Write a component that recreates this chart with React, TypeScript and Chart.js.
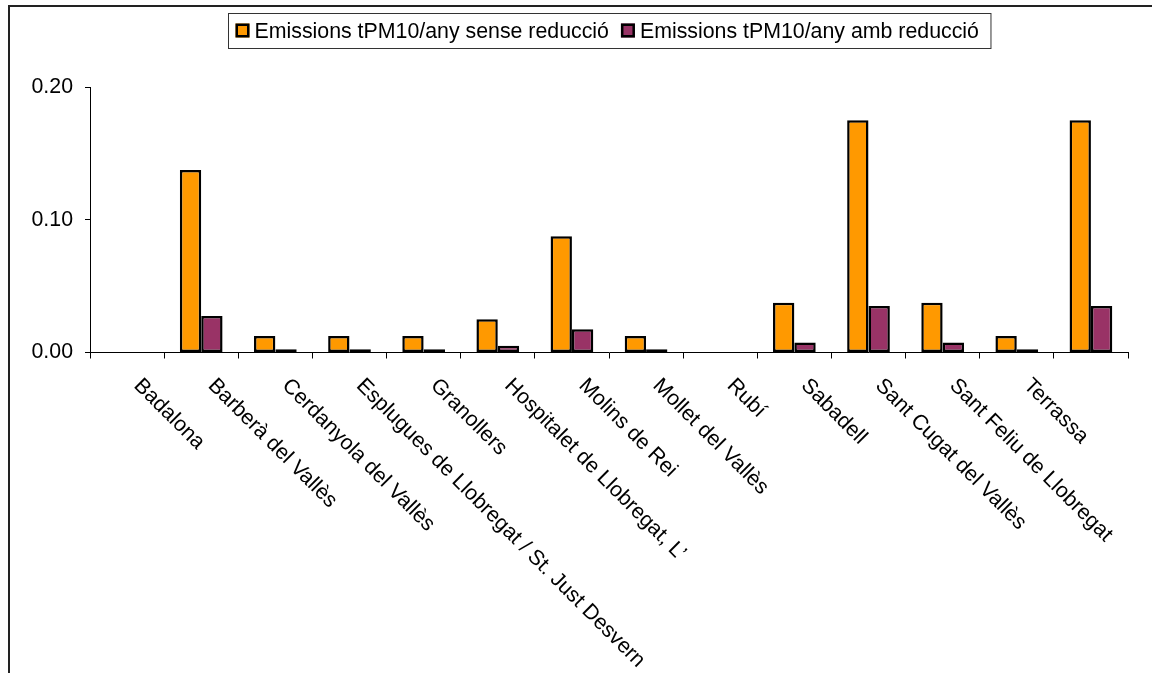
import React, { useEffect, useRef } from 'react';
import { Chart, registerables } from 'chart.js';

Chart.register(...registerables);

const categories = [
  'Badalona',
  'Barberà del Vallès',
  'Cerdanyola del Vallès',
  'Esplugues de Llobregat / St. Just Desvern',
  'Granollers',
  'Hospitalet de Llobregat, L’',
  'Molins de Rei',
  'Mollet del Vallès',
  'Rubí',
  'Sabadell',
  'Sant Cugat del Vallès',
  'Sant Feliu de Llobregat',
  'Terrassa',
  '',
];

const seriesNames = ['Emissions tPM10/any sense reducció', 'Emissions tPM10/any amb reducció'];
const seriesColors = ['#FF9900', '#993366'];

const withoutReduction = [0, 0.1375, 0.0125, 0.0125, 0.0125, 0.025, 0.0875, 0.0125, 0, 0.0375, 0.175, 0.0375, 0.0125, 0.175];
const withReduction = [0, 0.0275, 0.0025, 0.0025, 0.0025, 0.005, 0.0175, 0.0025, 0, 0.0075, 0.035, 0.0075, 0.0025, 0.035];

const yTicks = [0, 0.1, 0.2];

const FONT = '"Liberation Sans", Arial, Helvetica, sans-serif';
const FS = 21.33;

const CANVAS_W = 1142;
const CANVAS_H = 666;

const rotatedLabels = {
  id: 'rotatedLabels',
  afterDraw(chart: any) {
    const { ctx, chartArea } = chart;
    const xs = chart.scales.x;
    ctx.save();
    ctx.font = `${FS}px ${FONT}`;
    ctx.fillStyle = '#000';
    ctx.textAlign = 'left';
    ctx.textBaseline = 'alphabetic';
    categories.forEach((c, i) => {
      if (!c) return;
      const px = xs.getPixelForValue(i) + 6;
      const py = chartArea.bottom + 34;
      ctx.save();
      ctx.translate(px, py);
      ctx.rotate(Math.PI / 4);
      ctx.fillText(c, 0, 0);
      ctx.restore();
    });
    ctx.restore();
  },
};

const boxedLegend = {
  id: 'boxedLegend',
  afterDraw(chart: any) {
    const { ctx, chartArea } = chart;
    ctx.save();
    ctx.font = `${FS}px ${FONT}`;
    const padL = 7, box = 14, gapBox = 5, gapItem = 12, padR = 12;
    const widths = seriesNames.map((n) => ctx.measureText(n).width);
    let total = padL + padR;
    widths.forEach((w, i) => {
      total += box + gapBox + w + (i < widths.length - 1 ? gapItem : 0);
    });
    const cx = (chartArea.left + chartArea.right) / 2;
    const left = Math.round(cx - total / 2) + 0.5;
    const top = 6.5;
    const h = 35;
    ctx.fillStyle = '#fff';
    ctx.fillRect(left, top, total, h);
    ctx.strokeStyle = '#333';
    ctx.lineWidth = 1;
    ctx.strokeRect(left, top, total, h);
    let x = left + padL;
    const boxTop = top + 10;
    const baseline = top + 24;
    seriesNames.forEach((n, i) => {
      ctx.fillStyle = seriesColors[i];
      ctx.fillRect(x, boxTop, box, box);
      ctx.strokeStyle = '#000';
      ctx.lineWidth = 2.5;
      ctx.strokeRect(x + 1.25, boxTop + 1.25, box - 2.5, box - 2.5);
      x += box + gapBox;
      ctx.fillStyle = '#000';
      ctx.textAlign = 'left';
      ctx.textBaseline = 'alphabetic';
      ctx.fillText(n, x, baseline);
      x += widths[i] + gapItem;
    });
    ctx.restore();
  },
};

export default function App() {
  const ref = useRef<HTMLCanvasElement | null>(null);

  useEffect(() => {
    if (!ref.current) return;
    Chart.defaults.font.family = FONT;
    const chart = new Chart(ref.current, {
      type: 'bar',
      data: {
        labels: categories,
        datasets: [
          {
            label: seriesNames[0],
            data: withoutReduction,
            backgroundColor: seriesColors[0],
            borderColor: '#000',
            borderWidth: 2.5,
            borderSkipped: false,
            categoryPercentage: 0.576,
            barPercentage: 1,
          },
          {
            label: seriesNames[1],
            data: withReduction,
            backgroundColor: seriesColors[1],
            borderColor: '#000',
            borderWidth: 2.5,
            borderSkipped: false,
            categoryPercentage: 0.576,
            barPercentage: 1,
          },
        ],
      },
      options: {
        responsive: false,
        animation: false,
        events: [],
        layout: { padding: { top: 80, right: 24, left: 0, bottom: 0 } },
        plugins: {
          legend: { display: false },
          tooltip: { enabled: false },
          title: { display: false },
        },
        scales: {
          x: {
            type: 'category',
            offset: true,
            ticks: { display: false },
            grid: {
              display: true,
              offset: true,
              drawOnChartArea: false,
              drawTicks: true,
              tickLength: 6,
              color: '#000',
              lineWidth: 1,
            },
            border: { display: true, color: '#000', width: 1 },
            afterFit: (scale: any) => {
              scale.height = 320.5;
            },
          },
          y: {
            min: 0,
            max: 0.2,
            afterBuildTicks: (scale: any) => {
              scale.ticks = yTicks.map((v) => ({ value: v }));
            },
            ticks: {
              color: '#000',
              font: { size: FS, family: FONT },
              padding: 12,
              callback: (v: any) => Number(v).toFixed(2),
            },
            grid: {
              display: true,
              drawOnChartArea: false,
              drawTicks: true,
              tickLength: 5,
              color: '#000',
              lineWidth: 1,
            },
            border: { display: true, color: '#000', width: 1 },
            afterFit: (scale: any) => {
              scale.width = 80;
            },
          },
        },
      },
      plugins: [rotatedLabels, boxedLegend],
    });
    return () => chart.destroy();
  }, []);

  return (
    <div
      style={{
        position: 'absolute',
        left: 8,
        top: 5,
        borderTop: '2px solid #222',
        borderLeft: '2px solid #222',
        width: CANVAS_W,
        height: CANVAS_H,
        background: '#fff',
      }}
    >
      <canvas ref={ref} width={CANVAS_W} height={CANVAS_H} style={{ display: 'block' }} />
    </div>
  );
}
